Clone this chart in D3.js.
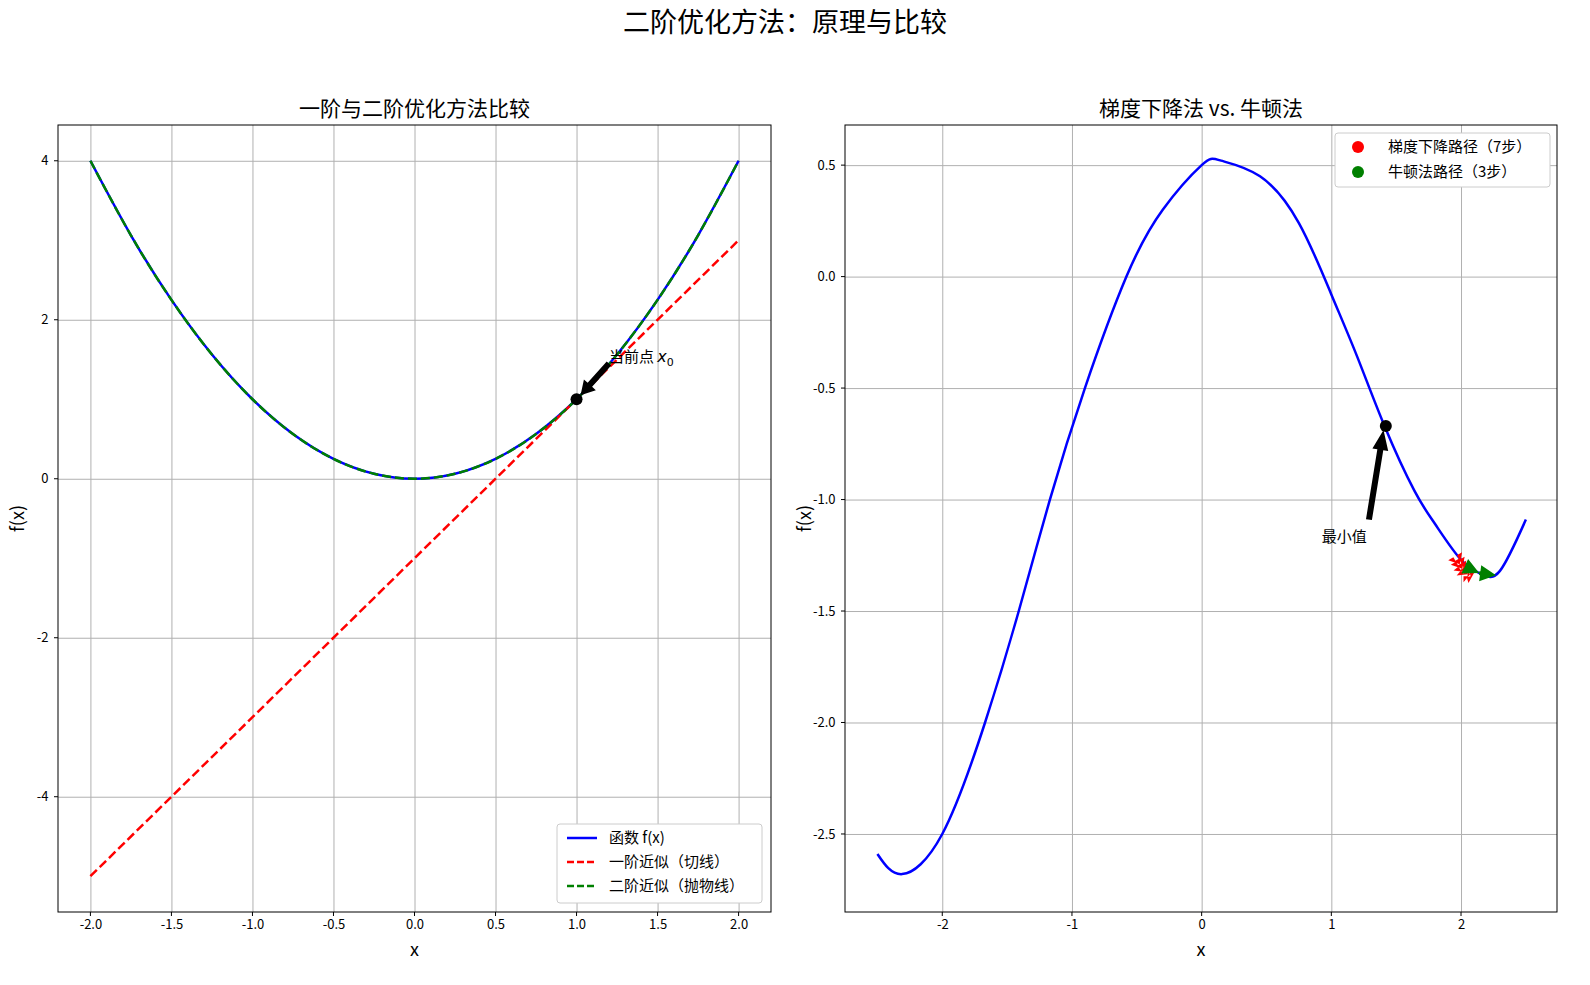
<!DOCTYPE html><html><head><meta charset="utf-8">
<script src="https://cdn.jsdelivr.net/npm/d3@7"></script>
<style>body{margin:0;background:#fff}text{font-family:"Noto Sans CJK SC","DejaVu Sans",sans-serif}</style></head><body>
<svg id="c" width="1590" height="985"></svg>
<script>
// Left panel data
const leftX = [-2,-1.75,-1.5,-1.25,-1,-0.75,-0.5,-0.25,0,0.25,0.5,0.75,1,1.25,1.5,1.75,2];
const leftF = [4,3.0625,2.25,1.5625,1,0.5625,0.25,0.0625,0,0.0625,0.25,0.5625,1,1.5625,2.25,3.0625,4];
const tangentX = [-2,2];
const tangentY = [-5,3];
const leftXTicks = [-2,-1.5,-1,-0.5,0,0.5,1,1.5,2];
const leftYTicks = [-4,-2,0,2,4];
// Right panel data
const rightX = [-2.5,-2.31,-2,-1.67,-1.41,-1.17,-0.9,-0.58,-0.3,0,0.15,0.45,0.75,1,1.2,1.41,1.64,1.8,2,2.16,2.3,2.5];
const rightF = [-2.59,-2.68,-2.5,-2.0,-1.5,-1.0,-0.5,0,0.3,0.5,0.52,0.45,0.24,-0.08,-0.36,-0.67,-0.96,-1.11,-1.27,-1.335,-1.32,-1.09];
const gdPathX = [1.97,1.99,2.01,2.03,2.05,2.07,2.1];
const gdPathY = [-1.27,-1.29,-1.31,-1.325,-1.335,-1.335,-1.33];
const nwPathX = [2.03,2.14,2.27];
const nwPathY = [-1.30,-1.33,-1.34];
const rightXTicks = [-2,-1,0,1,2];
const rightYTicks = [0.5,0,-0.5,-1,-1.5,-2,-2.5];

const svg = d3.select("#c");
svg.append("text").attr("x",785).attr("y",32).attr("text-anchor","middle").attr("font-size",27).text("二阶优化方法：原理与比较");
const fmt1 = d=>d3.format(".1f")(d).replace("−","-");

function panel(x0,x1,y0,y1,xd,yd,xt,yt,xf,yf,title){
  const x=d3.scaleLinear().domain(xd).range([x0,x1]);
  const y=d3.scaleLinear().domain(yd).range([y1,y0]);
  const g=svg.append("g");
  g.append("g").attr("transform",`translate(0,${y1})`).call(d3.axisBottom(x).tickValues(xt).tickFormat(xf).tickSize(-(y1-y0)))
   .call(a=>{a.select(".domain").remove();a.selectAll("line").attr("stroke","#b0b0b0");a.selectAll("text").attr("font-size",13).attr("dy","1.1em");});
  g.append("g").attr("transform",`translate(${x0},0)`).call(d3.axisLeft(y).tickValues(yt).tickFormat(yf).tickSize(-(x1-x0)))
   .call(a=>{a.select(".domain").remove();a.selectAll("line").attr("stroke","#b0b0b0");a.selectAll("text").attr("font-size",13).attr("dx","-0.5em");});
  xt.forEach(v=>g.append("line").attr("x1",x(v)).attr("x2",x(v)).attr("y1",y1).attr("y2",y1+4).attr("stroke","#000"));
  yt.forEach(v=>g.append("line").attr("x1",x0-4).attr("x2",x0).attr("y1",y(v)).attr("y2",y(v)).attr("stroke","#000"));
  g.append("rect").attr("x",x0).attr("y",y0).attr("width",x1-x0).attr("height",y1-y0).attr("fill","none").attr("stroke","#000");
  g.append("text").attr("x",(x0+x1)/2).attr("y",y0-9).attr("text-anchor","middle").attr("font-size",21).text(title);
  g.append("text").attr("x",(x0+x1)/2).attr("y",y1+44).attr("text-anchor","middle").attr("font-size",18).text("x");
  g.append("text").attr("transform",`translate(${x0-34},${(y0+y1)/2}) rotate(-90)`).attr("text-anchor","middle").attr("font-size",18).text("f(x)");
  return {x,y,g};
}
function arrow(g,xa,ya,xb,yb,w,hw,hl,col){
  const dx=xb-xa,dy=yb-ya,L=Math.hypot(dx,dy)||1,ux=dx/L,uy=dy/L,px=-uy,py=ux;
  const bx=xb-ux*hl,by=yb-uy*hl;
  const pts=[[xa+px*w/2,ya+py*w/2],[bx+px*w/2,by+py*w/2],[bx+px*hw/2,by+py*hw/2],[xb,yb],[bx-px*hw/2,by-py*hw/2],[bx-px*w/2,by-py*w/2],[xa-px*w/2,ya-py*w/2]];
  g.append("polygon").attr("points",pts.map(p=>p.join(",")).join(" ")).attr("fill",col||"#000");
}

// LEFT
const L=panel(58,771,125,912,[-2.2,2.2],[-5.45,4.45],leftXTicks,leftYTicks,fmt1,d=>d3.format("d")(d).replace("−","-"),"一阶与二阶优化方法比较");
const lineL=d3.line().x(d=>L.x(d[0])).y(d=>L.y(d[1])).curve(d3.curveNatural);
const pts=leftX.map((v,i)=>[v,leftF[i]]);
L.g.append("path").attr("d",lineL(pts)).attr("fill","none").attr("stroke","blue").attr("stroke-width",2.5);
L.g.append("path").attr("d",lineL(tangentX.map((v,i)=>[v,tangentY[i]]))).attr("fill","none").attr("stroke","red").attr("stroke-width",2.5).attr("stroke-dasharray","9,4");
L.g.append("path").attr("d",lineL(pts)).attr("fill","none").attr("stroke","green").attr("stroke-width",2.5).attr("stroke-dasharray","9,4");
arrow(L.g,L.x(1.2),L.y(1.55)+8,L.x(1)+4,L.y(1)-4,6,16,14);
L.g.append("circle").attr("cx",L.x(1)).attr("cy",L.y(1)).attr("r",6).attr("fill","#000");
const t=L.g.append("text").attr("x",L.x(1.2)).attr("y",L.y(1.55)+6).attr("font-size",15).text("当前点 ");
t.append("tspan").attr("font-style","italic").attr("font-family","DejaVu Sans").attr("font-size",16).text("x");
t.append("tspan").attr("font-size",11).attr("dy",4).attr("font-family","DejaVu Sans").text("0");
const lg=L.g.append("g");
lg.append("rect").attr("x",557).attr("y",824).attr("width",205).attr("height",79).attr("rx",3).attr("fill","#fff").attr("stroke","#ccc");
[["函数 f(x)","blue",null],["一阶近似（切线）","red","7,3"],["二阶近似（抛物线）","green","7,3"]].forEach((d,i)=>{
  const yy=838+i*24;
  lg.append("line").attr("x1",567).attr("x2",597).attr("y1",yy).attr("y2",yy).attr("stroke",d[1]).attr("stroke-width",2.5).attr("stroke-dasharray",d[2]);
  lg.append("text").attr("x",609).attr("y",yy+5).attr("font-size",15).text(d[0]);
});

// RIGHT
const R=panel(845,1557,125,912,[-2.75,2.74],[-2.85,0.68],rightXTicks,rightYTicks,d=>d3.format("d")(d).replace("−","-"),fmt1,"梯度下降法 vs. 牛顿法");
const lineR=d3.line().x(d=>R.x(d[0])).y(d=>R.y(d[1])).curve(d3.curveNatural);
R.g.append("path").attr("d",lineR(rightX.map((v,i)=>[v,rightF[i]]))).attr("fill","none").attr("stroke","blue").attr("stroke-width",2.5);
function path(xs,ys,col){
  for(let i=0;i<xs.length-1;i++){
    arrow(R.g,R.x(xs[i]),R.y(ys[i]),R.x(xs[i+1]),R.y(ys[i+1]),4,16,Math.min(16,Math.hypot(R.x(xs[i+1])-R.x(xs[i]),R.y(ys[i+1])-R.y(ys[i]))+4),col);
  }
}
path(gdPathX,gdPathY,"red");
path(nwPathX,nwPathY,"green");
arrow(R.g,R.x(1.29),R.y(-1.09),R.x(1.41)-1,R.y(-0.67)+4,6,16,20);
R.g.append("circle").attr("cx",R.x(1.42)).attr("cy",R.y(-0.67)).attr("r",6).attr("fill","#000");
R.g.append("text").attr("x",R.x(1.1)).attr("y",R.y(-1.17)+5).attr("text-anchor","middle").attr("font-size",15).text("最小值");
const rg=R.g.append("g");
rg.append("rect").attr("x",1335).attr("y",133).attr("width",215).attr("height",54).attr("rx",3).attr("fill","#fff").attr("stroke","#ccc");
[["梯度下降路径（7步）","red"],["牛顿法路径（3步）","green"]].forEach((d,i)=>{
  const yy=147+i*25;
  rg.append("circle").attr("cx",1358).attr("cy",yy).attr("r",6).attr("fill",d[1]);
  rg.append("text").attr("x",1388).attr("y",yy+5).attr("font-size",15).text(d[0]);
});
</script></body></html>
